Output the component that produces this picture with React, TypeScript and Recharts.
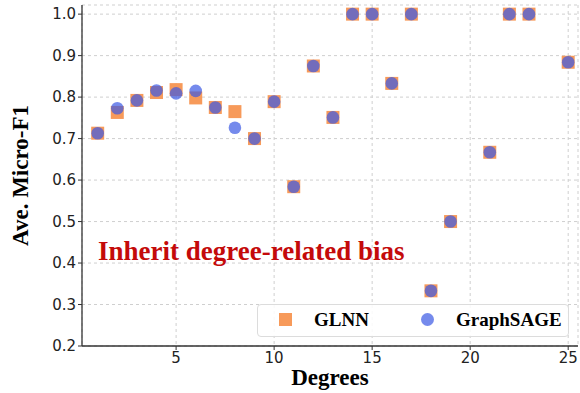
import { ScatterChart, Scatter, XAxis, YAxis, CartesianGrid, ReferenceDot } from 'recharts';

const degrees = [1, 2, 3, 4, 5, 6, 7, 8, 9, 10, 11, 12, 13, 14, 15, 16, 17, 18, 19, 21, 22, 23, 25];
const glnnF1 = [0.713, 0.763, 0.792, 0.811, 0.818, 0.798, 0.775, 0.765, 0.700, 0.789, 0.584, 0.875, 0.751, 1.0, 1.0, 0.833, 1.0, 0.333, 0.5, 0.667, 1.0, 1.0, 0.884];
const sageF1 = [0.713, 0.773, 0.792, 0.816, 0.809, 0.815, 0.775, 0.726, 0.700, 0.789, 0.584, 0.875, 0.751, 1.0, 1.0, 0.833, 1.0, 0.333, 0.5, 0.667, 1.0, 1.0, 0.884];
const xTicks = [5, 10, 15, 20, 25];
const yTicks = [0.2, 0.3, 0.4, 0.5, 0.6, 0.7, 0.8, 0.9, 1.0];

const glnnData = degrees.map((d, i) => ({ degree: d, f1: glnnF1[i] }));
const sageData = degrees.map((d, i) => ({ degree: d, f1: sageF1[i] }));

const X_DOMAIN: [number, number] = [0.2, 25.5];
const Y_DOMAIN: [number, number] = [0.2, 1.022];

const ORANGE = '#F79A5A';
const BLUE = '#3A58E4';
const FRAME = '#333';
const SERIF = '"Liberation Serif", "Times New Roman", serif';
const SANS = '"DejaVu Sans", sans-serif';

const tickStyle = { fill: '#222', fontSize: 15, fontFamily: SANS };

function SquareShape(props: any) {
  const { cx, cy } = props;
  return <rect x={cx - 6.5} y={cy - 6.5} width={13} height={13} fill={ORANGE} />;
}

function CircleShape(props: any) {
  const { cx, cy } = props;
  return <circle cx={cx} cy={cy} r={6.3} fill={BLUE} fillOpacity={0.7} />;
}

function AnnotationShape(props: any) {
  const { cx, cy } = props;
  return (
    <text x={cx} y={cy} fill="#C40A0A" fontSize={27} fontWeight="bold" fontFamily={SERIF}>
      Inherit degree-related bias
    </text>
  );
}

export default function App() {
  return (
    <div style={{ position: 'relative', width: 580, height: 393, background: '#fff' }}>
      <style>{'html,body{margin:0;padding:0;overflow:hidden}'}</style>
      <ScatterChart width={580} height={393} margin={{ top: 5, right: 2, bottom: 0, left: 0 }}>
        <CartesianGrid stroke="#cfcfcf" strokeDasharray="3 3" />
        <XAxis
          type="number"
          dataKey="degree"
          domain={X_DOMAIN}
          ticks={xTicks}
          height={47}
          tick={tickStyle}
          tickSize={4}
          tickLine={{ stroke: FRAME }}
          axisLine={{ stroke: FRAME, strokeWidth: 1.3 }}
          allowDataOverflow
          label={{
            content: (p: any) => {
              const vb = p.viewBox;
              return (
                <text x={vb.x + vb.width / 2} y={vb.y + 39} textAnchor="middle" fontSize={23} fontWeight="bold" fontFamily={SERIF} fill="#000">
                  Degrees
                </text>
              );
            },
          }}
        />
        <XAxis
          xAxisId="top"
          orientation="top"
          type="number"
          domain={X_DOMAIN}
          height={0}
          tick={false}
          tickLine={false}
          axisLine={{ stroke: FRAME, strokeWidth: 1.3 }}
        />
        <YAxis
          type="number"
          dataKey="f1"
          domain={Y_DOMAIN}
          ticks={yTicks}
          width={82}
          tick={tickStyle}
          tickSize={4}
          tickLine={{ stroke: FRAME }}
          axisLine={{ stroke: FRAME, strokeWidth: 1.3 }}
          tickFormatter={(v: number) => v.toFixed(1)}
          allowDataOverflow
          label={{
            content: (p: any) => {
              const vb = p.viewBox;
              const cx = vb.x + 20;
              const cy = vb.y + vb.height / 2;
              return (
                <text x={cx} y={cy} transform={`rotate(-90 ${cx} ${cy})`} textAnchor="middle" dominantBaseline="central" fontSize={23} fontWeight="bold" fontFamily={SERIF} fill="#000">
                  Ave. Micro-F1
                </text>
              );
            },
          }}
        />
        <YAxis
          yAxisId="right"
          orientation="right"
          type="number"
          domain={Y_DOMAIN}
          width={0}
          tick={false}
          tickLine={false}
          axisLine={{ stroke: FRAME, strokeWidth: 1.3 }}
        />
        <Scatter name="GLNN" data={glnnData} shape={SquareShape} isAnimationActive={false} />
        <Scatter name="GraphSAGE" data={sageData} shape={CircleShape} isAnimationActive={false} />
        <ReferenceDot x={1.02} y={0.407} shape={AnnotationShape} ifOverflow="visible" />
      </ScatterChart>
      <div
        style={{
          position: 'absolute',
          left: 257,
          top: 304,
          width: 312,
          height: 33,
          boxSizing: 'border-box',
          border: '1px solid #dcdcdc',
          borderRadius: 4,
          background: 'rgba(255,255,255,0.85)',
          fontFamily: SERIF,
          fontWeight: 'bold',
          fontSize: 19,
          color: '#000',
        }}
      >
        <div style={{ position: 'absolute', left: 21, top: 8, width: 13, height: 13, background: ORANGE }} />
        <div style={{ position: 'absolute', left: 56, top: 4, lineHeight: '22px' }}>GLNN</div>
        <div style={{ position: 'absolute', left: 163, top: 8, width: 13, height: 13, borderRadius: '50%', background: BLUE, opacity: 0.7 }} />
        <div style={{ position: 'absolute', left: 198, top: 4, lineHeight: '22px' }}>GraphSAGE</div>
      </div>
    </div>
  );
}
